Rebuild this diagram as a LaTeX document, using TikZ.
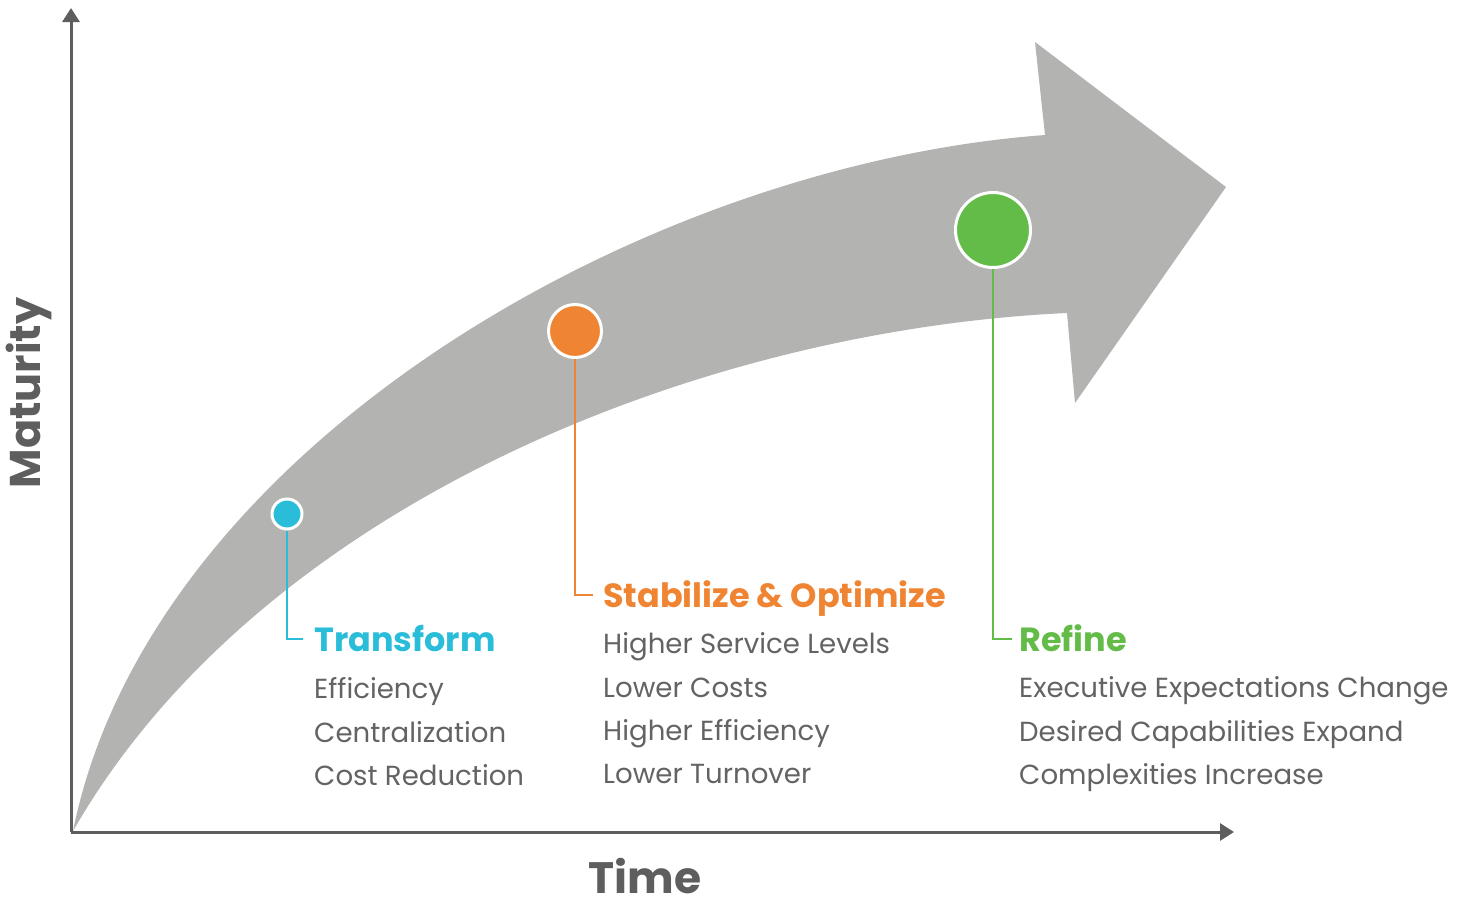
\documentclass[tikz,border=0pt]{standalone}
\usepackage{fontspec}
\setmainfont{Poppins}
\usepackage{xcolor}
\usetikzlibrary{arrows.meta,positioning}
\definecolor{ArrowGray}{HTML}{B3B3B2}
\definecolor{AxisGray}{HTML}{5E5E5E}
\definecolor{TextGray}{HTML}{636363}
\definecolor{StageCyan}{HTML}{29BDD9}
\definecolor{StageOrange}{HTML}{EF8533}
\definecolor{StageGreen}{HTML}{63BC48}

\begin{document}
\begin{tikzpicture}[
  x=1pt,y=-1pt,
  axis/.style={line width=3pt,draw=AxisGray,-{Triangle[length=14pt,width=17pt]}},
  dot/.style={circle,draw=white,line width=3pt,inner sep=0pt},
  lead/.style={line width=2.6pt},
  head/.style={font=\fontsize{33.5}{38}\selectfont\bfseries,anchor=base west,
               inner sep=0pt,text height=24pt,text depth=0pt},
  item/.style={font=\fontsize{27.6}{32}\selectfont,text=TextGray,anchor=base west,inner sep=0pt},
  axlabel/.style={font=\fontsize{44}{50}\selectfont\bfseries,text=AxisGray,inner sep=0pt,
                  text depth=0pt}
]
\useasboundingbox (0,0) rectangle (1468,905);
% big curved arrow
\fill[ArrowGray] (73,831) .. controls (150,450) and (640,165) .. (1045,135)
  -- (1035,42) -- (1226,187) -- (1075,403) -- (1067,313)
  .. controls (700,330) and (260,505) .. cycle;
% axes
\coordinate (origin) at (71,832);
\coordinate (ytop) at (71,8);
\coordinate (xend) at (1234,832);
\draw[axis] (origin) -- (ytop);
\draw[axis] (origin) -- (xend);
\node[axlabel,anchor=base] (time) at (645,893) {Time};
\node[axlabel,anchor=base,rotate=90,font=\fontsize{43}{48}\selectfont\bfseries] (maturity)
  at (40,393) {Maturity};
% stages
\node[head,text=StageCyan] (transform) at (314,651) {Transform};
\node[item] (eff) at (314,698) {Efficiency};
\node[item] (central) at (314,742) {Centralization};
\node[item] (cost) at (314,785) {Cost Reduction};

\node[head,text=StageOrange] (stabilize) at (603,607) {Stabilize \& Optimize};
\node[item] (service) at (603,653) {Higher Service Levels};
\node[item] (lowcost) at (603,697) {Lower Costs};
\node[item] (higheff) at (603,740) {Higher Efficiency};
\node[item] (turnover) at (603,783) {Lower Turnover};

\node[head,text=StageGreen] (refine) at (1019,651) {Refine};
\node[item] (expect) at (1019,697) {Executive Expectations Change};
\node[item] (capab) at (1019,741) {Desired Capabilities Expand};
\node[item] (complex) at (1019,784) {Complexities Increase};

\node[dot,fill=StageCyan,minimum size=30pt] (transformdot) at (287,514) {};
\node[dot,fill=StageOrange,minimum size=53pt] (stabilizedot) at (575,331) {};
\node[dot,fill=StageGreen,minimum size=75pt] (refinedot) at (993,230) {};
\draw[lead,StageCyan] (transformdot.south) |- ([xshift=-11pt]transform.west);
\draw[lead,StageOrange] (stabilizedot.south) |- ([xshift=-10pt]stabilize.west);
\draw[lead,StageGreen] (refinedot.south) |- ([xshift=-7pt]refine.west);
\end{tikzpicture}
\end{document}
